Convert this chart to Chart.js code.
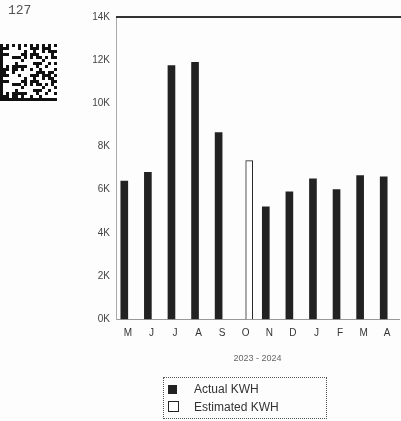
<!DOCTYPE html>
<html>
<head>
<meta charset="utf-8">
<script src="https://cdn.jsdelivr.net/npm/chart.js@4"></script>
<style>
  html, body { margin: 0; padding: 0; background: #fdfdfd; }
  #wrap { position: relative; width: 401px; height: 421px; overflow: hidden; font-family: "Liberation Sans", Arial, sans-serif; }
  #myChart { position: absolute; left: 0; top: 0; }
  #pageNo { position: absolute; left: 8px; top: 3px; font: 13px "Liberation Mono", "DejaVu Sans Mono", monospace; color: #555; }
  #code { position: absolute; left: 0; top: 44px; }
  #legend { position: absolute; left: 163px; top: 377px; width: 164px; height: 42px; box-sizing: border-box;
    border: 1px dotted #555; font-size: 12px; color: #333; }
  .item { position: absolute; left: 4px; height: 14px; line-height: 14px; }
  .swatch { display: inline-block; width: 9px; height: 9px; box-sizing: border-box; vertical-align: -1px; margin-right: 17px; }
</style>
</head>
<body>
<div id="wrap">
  <canvas id="myChart" width="401" height="421"></canvas>
  <div id="pageNo">127</div>
  <canvas id="code" width="58" height="57"></canvas>
  <div id="legend">
    <div class="item" style="top:4px"><span class="swatch" style="background:#222;border:1px solid #222"></span>Actual KWH</div>
    <div class="item" style="top:22px"><span class="swatch" style="background:#fff;border:1px solid #222;width:11px;height:11px;margin-right:15px"></span>Estimated KWH</div>
  </div>
</div>
<script>
const months = ['M', 'J', 'J', 'A', 'S', 'O', 'N', 'D', 'J', 'F', 'M', 'A'];
const actualKwh = [6400, 6800, 11750, 11900, 8650, null, 5200, 5900, 6500, 6000, 6650, 6600];
const estimatedKwh = [null, null, null, null, null, 7350, null, null, null, null, null, null];
const yearLabel = '2023 - 2024';

// little data-matrix style mark by the page number (decoration only)
(function() {
    const c = document.getElementById('code').getContext('2d');
    const n = 19, m = 3;
    c.fillStyle = '#fff';
    c.fillRect(0, 0, 58, 57);
    c.fillStyle = '#111';
    for (let r = 0; r < n; r++) {
        for (let k = 0; k < n; k++) {
            let on = ((r * r * 3 + k * 11 + r * k * 5 + (k * k) % 7) % 9) < 4;
            if (k === 0 || r === n - 1) on = true;
            if (r === 0 || k === n - 1) on = (r + k) % 2 === 0;
            if (on) c.fillRect(k * m, r * m, m, m);
        }
    }
})();

const topLine = {
    id: 'topLine',
    afterDatasetsDraw(chart) {
        const { ctx, chartArea, scales } = chart;
        const y = scales.y.getPixelForValue(14000);
        ctx.save();
        ctx.strokeStyle = '#333';
        ctx.lineWidth = 2;
        ctx.beginPath();
        ctx.moveTo(chartArea.left, y);
        ctx.lineTo(chartArea.right + 2, y);
        ctx.stroke();
        ctx.restore();
    }
};

document.addEventListener('DOMContentLoaded', function() {
    const ctx = document.getElementById('myChart').getContext('2d');
    new Chart(ctx, {
        type: 'bar',
        data: {
            labels: months,
            datasets: [{
                label: 'Actual KWH',
                data: actualKwh,
                backgroundColor: '#222',
                borderWidth: 0,
                barThickness: 7
            }, {
                label: 'Estimated KWH',
                data: estimatedKwh,
                backgroundColor: '#fff',
                borderColor: '#222',
                borderWidth: 1,
                barThickness: 7
            }]
        },
        options: {
            responsive: false,
            animation: false,
            layout: { padding: { top: 17, right: 2, left: 0, bottom: 53 } },
            plugins: { legend: { display: false }, tooltip: { enabled: false } },
            scales: {
                x: {
                    grid: { display: false, drawTicks: false },
                    border: { display: true, color: '#999', dash: [1, 2] },
                    ticks: { color: '#333', font: { size: 10, family: 'Liberation Sans' }, padding: 8, maxRotation: 0, autoSkip: false },
                    title: { display: true, text: yearLabel, color: '#666', font: { size: 9, family: 'Liberation Sans' }, padding: { top: 6 } }
                },
                y: {
                    min: 0,
                    max: 14000,
                    afterFit: function(s) { s.width = 116; },
                    grid: { display: false, drawTicks: false },
                    border: { display: true, color: '#aaa', dash: [1, 2] },
                    ticks: {
                        stepSize: 2000,
                        padding: 6,
                        color: '#444',
                        font: { size: 10, family: 'Liberation Sans' },
                        callback: v => (v / 1000) + 'K'
                    }
                }
            }
        },
        plugins: [topLine]
    });
});
</script>
</body>
</html>
